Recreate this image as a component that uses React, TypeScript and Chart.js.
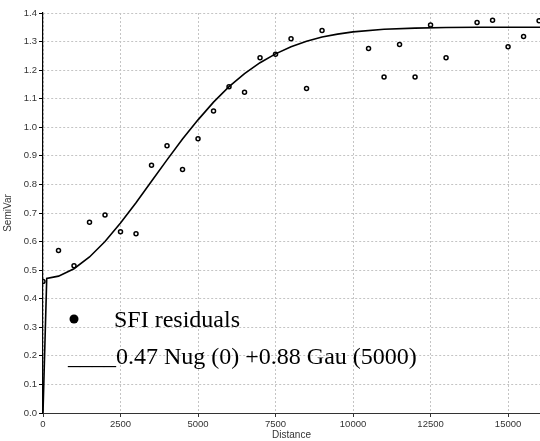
import React, { useEffect, useRef } from "react";
import { Chart, registerables } from "chart.js";

Chart.register(...registerables);

// Empirical semivariogram (lag distance, semivariance)
const lagDistances = [0, 500, 1000, 1500, 2000, 2500, 3000, 3500, 4000, 4500, 5000, 5500, 6000, 6500, 7000, 7500, 8000, 8500, 9000, 10500, 11000, 11500, 12000, 12500, 13000, 14000, 14500, 15000, 15500, 16000];
const semiVar = [0.46, 0.569, 0.515, 0.668, 0.693, 0.634, 0.627, 0.867, 0.935, 0.852, 0.96, 1.057, 1.142, 1.123, 1.243, 1.256, 1.31, 1.136, 1.339, 1.276, 1.176, 1.29, 1.176, 1.358, 1.243, 1.367, 1.375, 1.282, 1.318, 1.373];

// Fitted model curve
const modelDistances = [0, 120, 500, 1000, 1500, 2000, 2500, 3000, 3500, 4000, 4500, 5000, 5500, 6000, 6500, 7000, 7500, 8000, 8500, 9000, 9500, 10000, 11000, 12000, 13000, 14000, 15000, 16030];
const modelValues = [0, 0.471, 0.479, 0.505, 0.546, 0.6, 0.665, 0.736, 0.811, 0.886, 0.959, 1.026, 1.088, 1.142, 1.188, 1.226, 1.257, 1.282, 1.301, 1.316, 1.326, 1.334, 1.343, 1.347, 1.349, 1.35, 1.35, 1.35];

const xTickValues = [0, 2500, 5000, 7500, 10000, 12500, 15000];
const yTickValues = [0, 0.1, 0.2, 0.3, 0.4, 0.5, 0.6, 0.7, 0.8, 0.9, 1.0, 1.1, 1.2, 1.3, 1.4];

const seriesLabel = "SFI residuals";
const modelLabel = "____0.47 Nug (0) +0.88 Gau (5000)";

const TICK_FONT = { family: "'Liberation Sans', Arial, sans-serif", size: 9.5 };
const TITLE_FONT = { family: "'Liberation Sans', Arial, sans-serif", size: 10 };

const legendPlugin = {
  id: "customLegend",
  afterDraw(chart: any) {
    const ctx = chart.ctx;
    ctx.save();
    ctx.fillStyle = "#000";
    ctx.beginPath();
    ctx.arc(74, 319, 4.5, 0, Math.PI * 2);
    ctx.fill();
    ctx.font = "24px 'Liberation Serif', 'Times New Roman', serif";
    ctx.textBaseline = "alphabetic";
    ctx.textAlign = "left";
    ctx.fillText(seriesLabel, 114, 327);
    ctx.fillText(modelLabel, 68, 364);
    ctx.restore();
  },
};

export default function App() {
  const canvasRef = useRef<HTMLCanvasElement | null>(null);

  useEffect(() => {
    document.body.style.margin = "0";
    const canvas = canvasRef.current;
    if (!canvas) return;
    const chart = new Chart(canvas, {
      type: "scatter",
      data: {
        datasets: [
          {
            label: modelLabel,
            data: modelDistances.map((x, i) => ({ x, y: modelValues[i] })),
            showLine: true,
            borderColor: "#000",
            borderWidth: 1.6,
            pointRadius: 0,
            tension: 0,
            fill: false,
          },
          {
            label: seriesLabel,
            data: lagDistances.map((x, i) => ({ x, y: semiVar[i] })),
            showLine: false,
            pointRadius: 2,
            pointBorderWidth: 1.5,
            pointBorderColor: "#000",
            pointBackgroundColor: "rgba(255,255,255,0)",
          },
        ],
      },
      options: {
        responsive: false,
        animation: false,
        layout: { autoPadding: false, padding: { top: 13, right: 0, left: 0, bottom: 0 } },
        plugins: {
          legend: { display: false },
          tooltip: { enabled: false },
        },
        scales: {
          x: {
            type: "linear",
            min: 0,
            max: 16030,
            afterBuildTicks: (scale: any) => {
              scale.ticks = xTickValues.map((v) => ({ value: v }));
            },
            afterFit: (scale: any) => {
              scale.height = 28;
              scale.paddingRight = 0;
              scale.paddingLeft = 0;
            },
            grid: {
              color: "#c4c4c4",
              tickColor: "#333",
              tickLength: 4,
              tickBorderDash: [],
            },
            border: { color: "#333", width: 1, dash: [2, 2] },
            ticks: {
              color: "#333",
              font: TICK_FONT,
              padding: 2,
              maxRotation: 0,
              autoSkip: false,
              callback: (v: any) => String(v),
            },
            title: {
              display: true,
              text: "Distance",
              color: "#333",
              font: TITLE_FONT,
              padding: { top: 0, bottom: 0 },
            },
          },
          y: {
            type: "linear",
            min: 0,
            max: 1.4,
            afterBuildTicks: (scale: any) => {
              scale.ticks = yTickValues.map((v) => ({ value: v }));
            },
            afterFit: (scale: any) => {
              scale.width = 43;
              scale.paddingTop = 0;
              scale.paddingBottom = 0;
            },
            grid: {
              color: "#c4c4c4",
              tickColor: "#000",
              tickLength: 4,
              tickBorderDash: [],
            },
            border: { color: "#000", width: 1.2, dash: [2, 2] },
            ticks: {
              color: "#333",
              font: TICK_FONT,
              padding: 2,
              autoSkip: false,
              callback: (v: any) => Number(v).toFixed(1),
            },
            title: {
              display: true,
              text: "SemiVar",
              color: "#333",
              font: TITLE_FONT,
              padding: { top: 2, bottom: 0 },
            },
          },
        },
      },
      plugins: [legendPlugin],
    } as any);
    return () => chart.destroy();
  }, []);

  return (
    <div style={{ width: 540, height: 441, background: "#fff" }}>
      <canvas ref={canvasRef} width={540} height={441} style={{ display: "block" }} />
    </div>
  );
}
